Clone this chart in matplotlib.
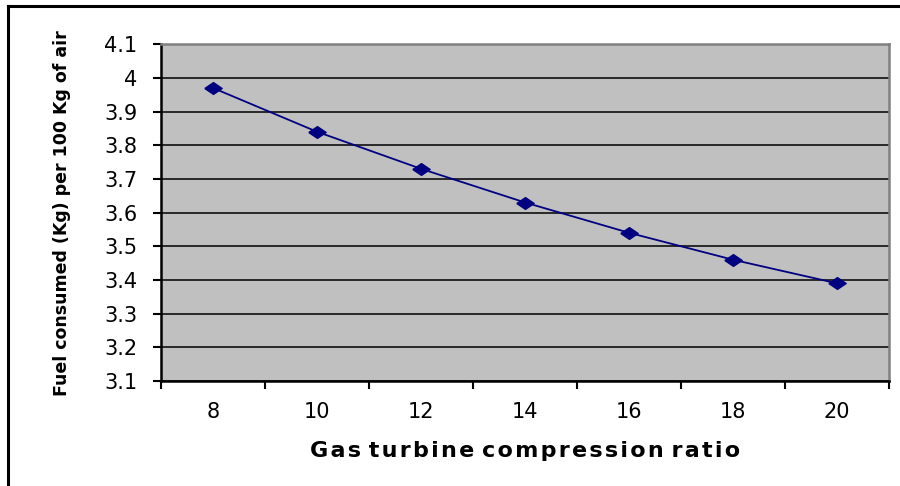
import numpy as np
import matplotlib.pyplot as plt
from matplotlib.lines import Line2D

# DejaVu is wider than Arial, closer to the stretched Excel text
plt.rcParams['font.family'] = ['DejaVu Sans']

# compression ratio categories and fuel consumption values
ratios = ['8', '10', '12', '14', '16', '18', '20']
fuel = [3.97, 3.84, 3.73, 3.63, 3.54, 3.46, 3.39]
yticks = np.round(np.arange(3.1, 4.11, 0.1), 1)
ytick_labels = ['3.1', '3.2', '3.3', '3.4', '3.5', '3.6', '3.7', '3.8', '3.9', '4', '4.1']

fig = plt.figure(figsize=(9, 4.86), dpi=100)
ax = fig.add_axes([0.179, 0.216, 0.809, 0.693])
ax.set_facecolor('#C0C0C0')

# wide diamond marker (Excel stretches it)
diamond = [(-1, 0), (0, 0.68), (1, 0), (0, -0.68), (-1, 0)]

x = np.arange(len(ratios))
ax.plot(x, fuel, color='#000080', lw=1.3, marker=diamond, markersize=12.5, zorder=3)

ax.set_xlim(-0.5, len(ratios) - 0.5)
ax.set_ylim(3.1, 4.1)
ax.set_yticks(yticks)
ax.set_yticklabels(ytick_labels)
ax.yaxis.grid(True, color='black', lw=1.1)
ax.set_axisbelow(True)

# category ticks sit between the labels, like Excel
ax.set_xticks(np.arange(-0.5, len(ratios), 1.0))
ax.set_xticklabels([])
ax.set_xticks(x, minor=True)
ax.set_xticklabels(ratios, minor=True)
ax.tick_params(axis='x', which='minor', length=0, pad=15)
ax.tick_params(axis='x', which='major', length=6, width=1.5, direction='out')
ax.tick_params(axis='y', length=6, width=1.5, direction='out', pad=11)
ax.tick_params(which='both', labelsize=15)

for s in ['left', 'bottom']:
    ax.spines[s].set_linewidth(1.8)
    ax.spines[s].set_color('black')
for s in ['top', 'right']:
    ax.spines[s].set_linewidth(1.8)
    ax.spines[s].set_color('#808080')

# slight letter spacing with hair spaces
xlab = ' '.join('\u200a'.join(w) for w in 'Gas turbine compression ratio'.split())
ax.set_xlabel(xlab, fontsize=16, fontweight='bold', labelpad=14)
ax.set_ylabel('Fuel consumed (Kg) per 100 Kg of air', fontsize=12.5, fontweight='bold', labelpad=24)

# outer chart frame
fig.add_artist(Line2D([0.009, 1.0], [0.988, 0.988], transform=fig.transFigure, color='black', lw=2.2))
fig.add_artist(Line2D([0.009, 0.009], [0.0, 0.988], transform=fig.transFigure, color='black', lw=2.2))

fig.savefig('out.png', dpi=100)
